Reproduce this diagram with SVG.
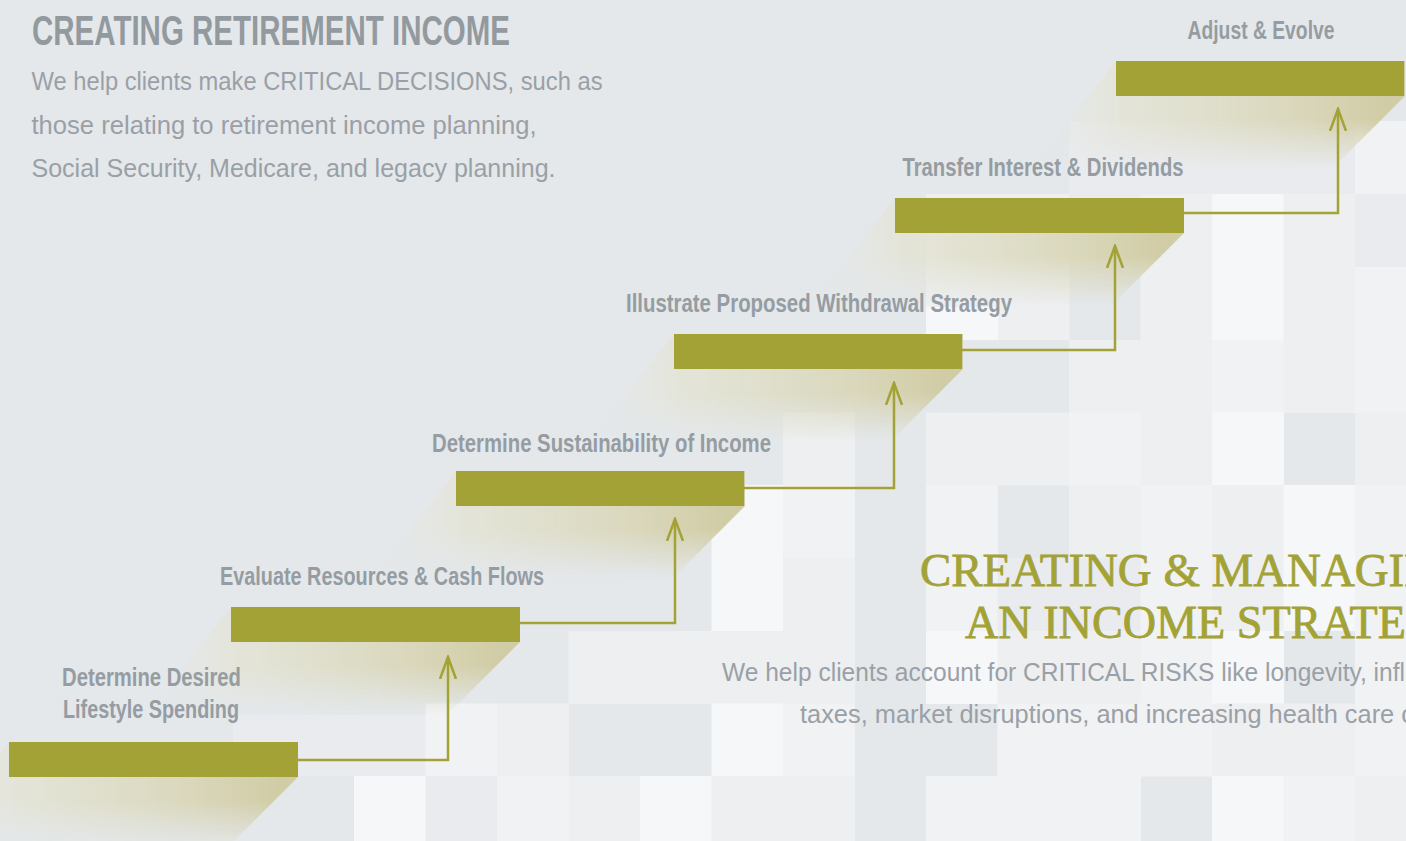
<svg xmlns="http://www.w3.org/2000/svg" width="1406" height="841" viewBox="0 0 1406 841">
<style>
.tB{fill:#e9ebee}.tC{fill:#edeff1}.tD{fill:#f1f2f4}.tE{fill:#f6f7f9}
.bar{fill:#a3a236}
.shadow{fill:url(#shGrad);mask:url(#fadeMask)}
.lbl{font-family:"Liberation Sans",Arial,sans-serif;font-weight:bold;font-size:26px;fill:#959ca2;text-anchor:middle}
.para{font-family:"Liberation Sans",Arial,sans-serif;font-size:26.5px;fill:#9aa0a6}
.title{font-family:"Liberation Sans",Arial,sans-serif;font-weight:bold;font-size:42px;fill:#939a9f}
.serif{font-family:"Liberation Serif","Times New Roman",serif;font-size:47px;fill:#a3a236;stroke:#a3a236;stroke-width:0.8}
.conn{fill:none;stroke:#a3a236;stroke-width:2.5;marker-end:url(#arrow)}
</style>
<defs>
<linearGradient id="shGrad" x1="0" y1="0" x2="1" y2="0">
<stop offset="0" stop-color="#e8e8de" stop-opacity="0"/>
<stop offset="0.25" stop-color="#e3e2d0" stop-opacity="0.7"/>
<stop offset="0.7" stop-color="#d9d6b9" stop-opacity="0.95"/>
<stop offset="0.95" stop-color="#d0cca5" stop-opacity="1"/>
</linearGradient>
<linearGradient id="vFade" x1="0" y1="0" x2="0" y2="1">
<stop offset="0" stop-color="#fff"/>
<stop offset="0.55" stop-color="#fff"/>
<stop offset="1" stop-color="#000"/>
</linearGradient>
<mask id="fadeMask" maskContentUnits="objectBoundingBox">
<rect x="0" y="0" width="1" height="1" fill="url(#vFade)"/>
</mask>
<marker id="arrow" viewBox="0 0 24 20" refX="22" refY="10" markerWidth="24" markerHeight="20" markerUnits="userSpaceOnUse" orient="auto">
<path d="M0,2 L22,10 L0,18" fill="none" stroke="#a3a236" stroke-width="2.5"/>
</marker>
</defs>
<rect x="0" y="0" width="1406" height="841" fill="#e4e8eb"/>
<g id="checker">
<rect class="tB" x="1069" y="121" width="72" height="73"/><rect class="tB" x="1140.5" y="121" width="72" height="73"/><rect class="tB" x="1212" y="121" width="72" height="73"/><rect class="tB" x="1283.5" y="121" width="72" height="73"/><rect class="tD" x="1355" y="121" width="72" height="73"/>
<rect class="tC" x="926" y="194" width="72" height="73"/><rect class="tC" x="997.5" y="194" width="72" height="73"/><rect class="tB" x="1069" y="194" width="72" height="73"/><rect class="tC" x="1140.5" y="194" width="72" height="73"/><rect class="tE" x="1212" y="194" width="72" height="73"/><rect class="tC" x="1283.5" y="194" width="72" height="73"/><rect class="tB" x="1355" y="194" width="72" height="73"/>
<rect class="tC" x="926" y="267" width="72" height="73"/><rect class="tC" x="997.5" y="267" width="72" height="73"/><rect class="tC" x="1140.5" y="267" width="72" height="73"/><rect class="tE" x="1212" y="267" width="72" height="73"/><rect class="tC" x="1283.5" y="267" width="72" height="73"/><rect class="tD" x="1355" y="267" width="72" height="73"/>
<rect class="tE" x="926" y="307" width="72" height="33"/>
<rect class="tC" x="1069" y="340" width="72" height="73"/><rect class="tC" x="1140.5" y="340" width="72" height="73"/><rect class="tD" x="1212" y="340" width="72" height="73"/><rect class="tC" x="1283.5" y="340" width="72" height="73"/><rect class="tD" x="1355" y="340" width="72" height="73"/>
<rect class="tC" x="783" y="412.5" width="72" height="73"/><rect class="tC" x="926" y="412.5" width="72" height="73"/><rect class="tC" x="997.5" y="412.5" width="72" height="73"/><rect class="tD" x="1069" y="412.5" width="72" height="73"/><rect class="tC" x="1140.5" y="412.5" width="72" height="73"/><rect class="tE" x="1212" y="412.5" width="72" height="73"/><rect class="tC" x="1355" y="412.5" width="72" height="73"/>
<rect class="tE" x="711.5" y="485" width="72" height="73"/><rect class="tD" x="783" y="485" width="72" height="73"/><rect class="tD" x="926" y="485" width="72" height="73"/><rect class="tC" x="1069" y="485" width="72" height="73"/><rect class="tD" x="1140.5" y="485" width="72" height="73"/><rect class="tC" x="1212" y="485" width="72" height="73"/><rect class="tE" x="1283.5" y="485" width="72" height="73"/><rect class="tD" x="1355" y="485" width="72" height="73"/>
<rect class="tE" x="711.5" y="558" width="72" height="73"/><rect class="tC" x="783" y="558" width="72" height="73"/><rect class="tD" x="926" y="558" width="72" height="73"/><rect class="tB" x="997.5" y="558" width="72" height="73"/><rect class="tB" x="1069" y="558" width="72" height="73"/><rect class="tD" x="1140.5" y="558" width="72" height="73"/><rect class="tC" x="1212" y="558" width="72" height="73"/><rect class="tE" x="1283.5" y="558" width="72" height="73"/><rect class="tD" x="1355" y="558" width="72" height="73"/>
<rect class="tC" x="568.5" y="631" width="72" height="73"/><rect class="tC" x="640" y="631" width="72" height="73"/><rect class="tC" x="711.5" y="631" width="72" height="73"/><rect class="tC" x="783" y="631" width="72" height="73"/><rect class="tE" x="926" y="631" width="72" height="73"/><rect class="tC" x="997.5" y="631" width="72" height="73"/><rect class="tC" x="1069" y="631" width="72" height="73"/><rect class="tD" x="1140.5" y="631" width="72" height="73"/><rect class="tE" x="1212" y="631" width="72" height="73"/><rect class="tD" x="1355" y="631" width="72" height="73"/>
<rect class="tB" x="233" y="715" width="193" height="61"/><rect class="tD" x="425.5" y="703.5" width="72" height="73"/><rect class="tC" x="497" y="703.5" width="72" height="73"/><rect class="tE" x="711.5" y="703.5" width="72" height="73"/><rect class="tD" x="783" y="703.5" width="72" height="73"/><rect class="tD" x="997.5" y="703.5" width="72" height="73"/><rect class="tD" x="1069" y="703.5" width="72" height="73"/><rect class="tD" x="1140.5" y="703.5" width="72" height="73"/><rect class="tC" x="1212" y="703.5" width="72" height="73"/><rect class="tC" x="1283.5" y="703.5" width="72" height="73"/><rect class="tD" x="1355" y="703.5" width="72" height="73"/>
<rect class="tE" x="354" y="776" width="72" height="66"/><rect class="tB" x="425.5" y="776" width="72" height="66"/><rect class="tD" x="497" y="776" width="72" height="66"/><rect class="tC" x="568.5" y="776" width="72" height="66"/><rect class="tE" x="640" y="776" width="72" height="66"/><rect class="tC" x="711.5" y="776" width="72" height="66"/><rect class="tC" x="783" y="776" width="72" height="66"/><rect class="tD" x="926" y="776" width="72" height="66"/><rect class="tD" x="997.5" y="776" width="72" height="66"/><rect class="tD" x="1069" y="776" width="72" height="66"/><rect class="tE" x="1212" y="776" width="72" height="66"/><rect class="tD" x="1283.5" y="776" width="72" height="66"/><rect class="tC" x="1355" y="776" width="72" height="66"/>
</g>
<g id="header">
<text class="title" x="32" y="45" textLength="478" lengthAdjust="spacingAndGlyphs">CREATING RETIREMENT INCOME</text>
<text class="para" x="31.5" y="90" textLength="571" lengthAdjust="spacingAndGlyphs">We help clients make CRITICAL DECISIONS, such as</text>
<text class="para" x="31.5" y="134" textLength="505" lengthAdjust="spacingAndGlyphs">those relating to retirement income planning,</text>
<text class="para" x="31.5" y="177" textLength="524" lengthAdjust="spacingAndGlyphs">Social Security, Medicare, and legacy planning.</text>
</g>
<g id="shadows">
<polygon class="shadow" points="9,742 298,742 298,777 226,849 -74,849"/>
<polygon class="shadow" points="231,607 520,607 520,642 448,714 148,714"/>
<polygon class="shadow" points="456,471 745,471 745,506 673,578 373,578"/>
<polygon class="shadow" points="674,334 963,334 963,369 891,441 591,441"/>
<polygon class="shadow" points="895,198 1184,198 1184,233 1112,305 812,305"/>
<polygon class="shadow" points="1116,61 1405,61 1405,96 1333,168 1033,168"/>
</g>
<g id="step1">
<rect class="bar" x="9" y="742" width="289" height="35"/>
<text class="lbl" x="151.5" y="686" textLength="179" lengthAdjust="spacingAndGlyphs">Determine Desired</text>
<text class="lbl" x="151" y="718" textLength="176" lengthAdjust="spacingAndGlyphs">Lifestyle Spending</text>
</g>
<g id="step2">
<rect class="bar" x="231" y="607" width="289" height="35"/>
<text class="lbl" x="382" y="585" textLength="324" lengthAdjust="spacingAndGlyphs">Evaluate Resources &amp; Cash Flows</text>
</g>
<g id="step3">
<rect class="bar" x="456" y="471" width="288" height="35"/>
<text class="lbl" x="601.5" y="452" textLength="339" lengthAdjust="spacingAndGlyphs">Determine Sustainability of Income</text>
</g>
<g id="step4">
<rect class="bar" x="674" y="334" width="288" height="35"/>
<text class="lbl" x="819" y="312" textLength="386" lengthAdjust="spacingAndGlyphs">Illustrate Proposed Withdrawal Strategy</text>
</g>
<g id="step5">
<rect class="bar" x="895" y="198" width="289" height="35"/>
<text class="lbl" x="1043" y="176" textLength="281" lengthAdjust="spacingAndGlyphs">Transfer Interest &amp; Dividends</text>
</g>
<g id="step6">
<rect class="bar" x="1116" y="61" width="288" height="35"/>
<text class="lbl" x="1261" y="39" textLength="147" lengthAdjust="spacingAndGlyphs">Adjust &amp; Evolve</text>
</g>
<g id="connectors">
<path class="conn" d="M298,760 H448 V657"/>
<path class="conn" d="M520,623 H675 V519"/>
<path class="conn" d="M744,488 H894 V383"/>
<path class="conn" d="M962,350 H1115 V246"/>
<path class="conn" d="M1184,213 H1338 V109"/>
</g>
<g id="strategy">
<text class="serif" x="920" y="586" textLength="518" lengthAdjust="spacingAndGlyphs">CREATING &amp; MANAGIN</text>
<text class="serif" x="965" y="638" textLength="441" lengthAdjust="spacingAndGlyphs">AN INCOME STRATE</text>
<text class="para" x="722" y="681" textLength="683" lengthAdjust="spacingAndGlyphs">We help clients account for CRITICAL RISKS like longevity, infl</text>
<text class="para" x="800" y="723" textLength="614" lengthAdjust="spacingAndGlyphs">taxes, market disruptions, and increasing health care c</text>
</g>
</svg>
